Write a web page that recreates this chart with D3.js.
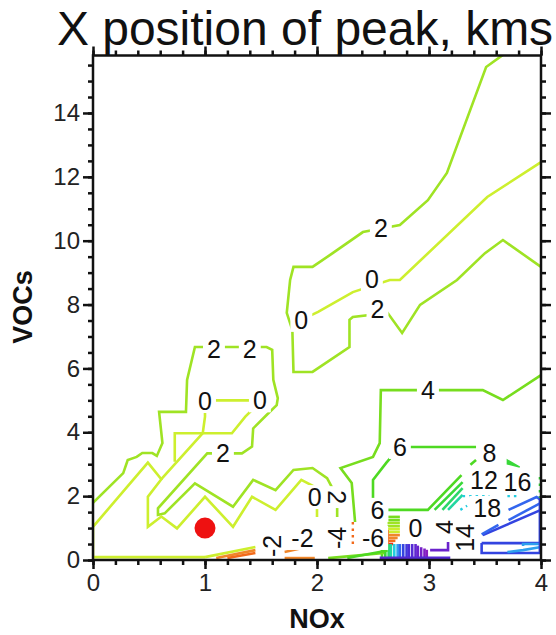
<!DOCTYPE html>
<html>
<head>
<meta charset="utf-8">
<script src="https://cdn.jsdelivr.net/npm/d3@7"></script>
<style>
  body { margin: 0; background: #fff; }
  text { font-family: "Liberation Sans", Arial, Helvetica, sans-serif; }
</style>
</head>
<body>
<svg id="chart" width="556" height="635"></svg>
<script>
// ---- chart text and axes ----
const chartTitle = "X position of peak, kms";
const xTitle = "NOx";
const yTitle = "VOCs";
const xDomain = [0, 4];
const yDomain = [0, 15.8];
const xTicks = [0, 1, 2, 3, 4];
const yTicks = [0, 2, 4, 6, 8, 10, 12, 14];

// base case marker (NOx, VOCs)
const basePoint = [1, 1];

// ---- contour lines of peak position, [NOx, VOCs] vertices ----
const contours = [
  // upper band
  { level: 2, pts: [[3.66,15.82],[3.51,15.44],[3.16,12.12],[2.99,11.27],[2.74,10.49],[2.41,10.27],[2.14,9.61],[1.96,9.18],[1.79,9.18],[1.76,8.77],[1.73,7.74],[1.78,7.20],[1.79,5.89],[1.96,5.89],[2.29,6.67],[2.29,7.52],[2.32,7.61],[2.63,7.74],[2.76,7.11],[2.92,7.99],[3.25,8.77],[3.50,9.61],[3.66,10.02],[4.0,9.18]] },
  { level: 0, pts: [[4.0,12.46],[3.52,11.37],[2.74,8.77],[2.65,8.77],[2.32,8.39],[2.01,7.77],[1.86,7.52]] },
  { level: 4, pts: [[4.0,5.79],[3.66,5.01],[3.48,5.32],[2.57,5.32],[2.56,3.66],[2.50,3.23],[2.21,2.88],[2.31,2.41],[2.34,1.19]] },
  // lower-left lobes
  { level: 2, pts: [[0,1.79],[0.27,2.72],[0.31,3.13],[0.39,3.23],[0.44,3.35],[0.53,3.35],[0.57,3.26],[0.62,3.66],[0.59,4.64],[0.83,4.64],[0.84,5.64],[0.91,6.67],[1.55,6.67],[1.60,6.58],[1.61,5.64],[1.65,5.07],[1.64,4.85],[1.55,4.54],[1.43,4.12],[1.42,3.55],[1.33,3.34],[1.02,3.34],[0.58,1.62],[0.58,1.41],[0.64,1.46],[0.91,2.40],[1.25,1.67],[1.43,2.51],[1.63,2.19],[1.79,2.82],[1.96,2.88],[2.09,2.56],[2.18,1.97],[2.18,1.35]] },
  { level: 0, pts: [[1.0,0.09],[0,0.09],[0,1.04],[0.49,3.05],[0.61,2.53],[0.49,1.98],[0.49,1.04],[0.61,1.36],[0.75,0.99],[1.0,1.98],[1.25,1.04],[1.42,1.98],[1.63,1.57],[1.86,2.51],[1.98,2.29],[2.0,1.97],[2.0,1.35]] },
  { level: 0, pts: [[0.61,2.53],[0.98,3.97],[1.0,4.49],[1.0,5.0],[1.49,5.0]] },
  { level: 0, pts: [[0.73,3.08],[0.73,3.97],[1.24,3.97],[1.36,4.49],[1.45,4.8]] },
  // positive lobe, lower right
  { level: 6, pts: [[3.42,3.54],[2.74,3.54],[2.62,3.05],[2.50,2.51],[2.50,1.57],[2.99,1.57],[3.29,2.66]] },
  { level: 6, pts: [[3.37,2.98],[3.42,3.13]] },
  { level: 8, pts: [[3.05,1.57],[3.30,2.44]] },
  { level: 10, pts: [[3.12,1.57],[3.30,2.25]] },
  { level: 12, pts: [[3.17,1.57],[3.30,2.04]] },
  { level: 18, pts: [[3.71,1.57],[3.96,1.97],[4.0,1.88]] },
  { level: 18, pts: [[3.71,1.25],[4.0,1.79]] },
  { level: 20, pts: [[3.48,0.78],[4.0,1.57]] },
  { level: 18, pts: [[3.47,0.80],[3.62,1.10]] },
  { level: 20, pts: [[3.47,0.53],[4.0,0.53]] },
  { level: 20, pts: [[4.0,0.22],[3.47,0.22],[3.47,0.53]] },
  { level: 16, pts: [[3.70,0.25],[3.84,0.31],[4.0,0.41]] },
  { level: 16, pts: [[3.84,0.44],[3.84,0.50],[4.0,0.50]] },
  { level: 20, pts: [[3.99,2.0],[3.99,0.22]] },
  // crowded levels near the NOx axis
  { level: 4, pts: [[2.63,1.35],[2.74,1.35]] },
  { level: 4, pts: [[2.63,1.25],[2.74,1.25]] },
  { level: 2, pts: [[2.63,1.16],[2.74,1.16]] },
  { level: 2, pts: [[2.63,1.06],[2.74,1.06]] },
  { level: 0, pts: [[2.63,0.97],[2.74,0.97]] },
  { level: 0, pts: [[2.63,0.88],[2.74,0.88]] },
  { level: -2, pts: [[2.63,0.78],[2.74,0.78]] },
  { level: -2, pts: [[2.63,0.69],[2.72,0.69]] },
  { level: -4, pts: [[2.63,0.60],[2.70,0.60]] },
  { level: -6, pts: [[2.63,0.50],[2.68,0.50]] },
  { level: -4, pts: [[2.63,0.94],[2.63,0.41]] },
  { level: 6, pts: [[2.58,0.08],[2.58,0.48]] },
  { level: 8, pts: [[2.61,0.08],[2.61,0.50]] },
  { level: 10, pts: [[2.64,0.08],[2.64,0.50]] },
  { level: 12, pts: [[2.66,0.08],[2.66,0.50]] },
  { level: 14, pts: [[2.69,0.08],[2.69,0.50]] },
  { level: 16, pts: [[2.72,0.08],[2.72,0.50]] },
  { level: 18, pts: [[2.74,0.08],[2.74,0.50]] },
  { level: 20, pts: [[2.77,0.08],[2.77,0.50]] },
  { level: 22, pts: [[2.80,0.08],[2.80,0.50]] },
  { level: 24, pts: [[2.82,0.08],[2.82,0.50]] },
  { level: 26, pts: [[2.85,0.08],[2.85,0.50]] },
  { level: 28, pts: [[2.88,0.08],[2.88,0.50]] },
  { level: 30, pts: [[2.90,0.08],[2.90,0.45]] },
  { level: 32, pts: [[2.93,0.08],[2.93,0.40]] },
  { level: 34, pts: [[2.96,0.08],[2.96,0.36]] },
  { level: 36, pts: [[2.98,0.08],[2.98,0.32]] },
  { level: 30, pts: [[3.01,0.31],[3.17,0.31],[3.17,0.56]] },
  { level: 26, pts: [[2.56,0.07],[3.19,0.07]] },
  { level: 4, pts: [[2.10,0.06],[2.60,0.22]] },
  { level: 6, pts: [[2.27,0.06],[2.63,0.30]] },
  { level: 0, pts: [[1.0,0.09],[1.45,0.41]] },
  { level: -2, pts: [[1.10,0.06],[1.45,0.31]] },
  { level: -4, pts: [[1.20,0.06],[1.45,0.22]] },
  { level: -2, pts: [[1.71,0.25],[1.91,0.41]] },
  { level: -2, pts: [[1.71,0.06],[1.98,0.06]] }
];

// broken, dotted contour fragments
const dottedContours = [
  { level: -4, pts: [[2.32,1.19],[2.32,0.38]] },
  { level: 14, pts: [[3.30,2.0],[3.54,2.0]] },
  { level: 14, pts: [[3.70,2.0],[3.81,2.0]] },
  { level: 14, pts: [[3.28,1.57],[3.34,1.70]] },
  { level: 8, pts: [[3.99,2.60],[3.99,1.94]] }
];

// small closed patch next to the 16 label
const filledPatches = [
  { level: 8, pts: [[3.70,3.13],[3.81,2.91],[3.70,3.01]] }
];

// contour labels: text, level position, rotation
const contourLabels = [
  { text: "2", x: 2.57, y: 10.40, rot: 0 },
  { text: "0", x: 2.49, y: 8.80, rot: 0 },
  { text: "0", x: 1.86, y: 7.52, rot: 0 },
  { text: "2", x: 2.54, y: 7.85, rot: 0 },
  { text: "2", x: 1.08, y: 6.61, rot: 0 },
  { text: "2", x: 1.40, y: 6.61, rot: 0 },
  { text: "0", x: 1.00, y: 4.98, rot: 0 },
  { text: "0", x: 1.49, y: 5.00, rot: 0 },
  { text: "2", x: 1.16, y: 3.34, rot: 0 },
  { text: "4", x: 2.99, y: 5.32, rot: 0 },
  { text: "6", x: 2.74, y: 3.54, rot: 0 },
  { text: "8", x: 3.54, y: 3.35, rot: 0 },
  { text: "12", x: 3.49, y: 2.51, rot: 0 },
  { text: "16", x: 3.79, y: 2.44, rot: 0 },
  { text: "18", x: 3.52, y: 1.63, rot: 0 },
  { text: "6", x: 2.54, y: 1.57, rot: 0 },
  { text: "0", x: 1.98, y: 1.97, rot: 0 },
  { text: "2", x: 2.18, y: 1.97, rot: 90 },
  { text: "-2", x: 1.60, y: 0.44, rot: -90 },
  { text: "-2", x: 1.87, y: 0.69, rot: 0 },
  { text: "-4", x: 2.18, y: 0.69, rot: -90 },
  { text: "-6", x: 2.50, y: 0.69, rot: 0 },
  { text: "0", x: 2.88, y: 1.00, rot: 0 },
  { text: "4", x: 3.14, y: 1.03, rot: -90 },
  { text: "14", x: 3.32, y: 0.69, rot: -90 }
];

// ---- drawing ----
const svg = d3.select("#chart");
const plotLeft = 93, plotRight = 541, plotTop = 55.5, plotBottom = 560;

const x = d3.scaleLinear().domain(xDomain).range([plotLeft, plotRight]);
const y = d3.scaleLinear().domain(yDomain).range([plotBottom, plotTop]);

// rainbow colouring of contour levels
const color = d3.scaleLinear()
  .domain([-6, -4, -2, 0, 2, 4, 6, 8, 10, 12, 14, 16, 18, 20, 24, 30, 36])
  .range(["#e8331c", "#f26a1b", "#f0862a", "#cdef2e", "#9fe324", "#77dd1e",
          "#4ed922", "#38d838", "#2cd868", "#22d6a0", "#22cce0", "#2fa0ee",
          "#3366ee", "#3344e0", "#4a2ed8", "#6a22cc", "#8a1ec0"])
  .interpolate(d3.interpolateRgb)
  .clamp(true);

svg.append("defs").append("clipPath").attr("id", "plot-area")
  .append("rect")
  .attr("x", plotLeft).attr("y", plotTop)
  .attr("width", plotRight - plotLeft).attr("height", plotBottom - plotTop);

const line = d3.line().x(d => x(d[0])).y(d => y(d[1]));
const plot = svg.append("g").attr("clip-path", "url(#plot-area)");

plot.selectAll("path.contour")
  .data(contours)
  .join("path")
  .attr("class", "contour")
  .attr("d", d => line(d.pts))
  .attr("fill", "none")
  .attr("stroke", d => color(d.level))
  .attr("stroke-width", 2.6)
  .attr("stroke-linejoin", "miter");

plot.selectAll("path.dotted")
  .data(dottedContours)
  .join("path")
  .attr("class", "dotted")
  .attr("d", d => line(d.pts))
  .attr("fill", "none")
  .attr("stroke", d => color(d.level))
  .attr("stroke-width", 2.4)
  .attr("stroke-dasharray", "2.5,4");

plot.selectAll("path.patch")
  .data(filledPatches)
  .join("path")
  .attr("class", "patch")
  .attr("d", d => line(d.pts) + "Z")
  .attr("fill", d => color(d.level))
  .attr("stroke", d => color(d.level))
  .attr("stroke-width", 1.5);

// contour labels with a white knock-out behind each
const labelG = svg.append("g");
contourLabels.forEach(d => {
  const g = labelG.append("g")
    .attr("transform", `translate(${x(d.x)},${y(d.y)}) rotate(${d.rot})`);
  const rect = g.append("rect").attr("fill", "#fff");
  const t = g.append("text")
    .attr("text-anchor", "middle")
    .attr("dy", "0.36em")
    .attr("font-size", 25)
    .attr("fill", "#111")
    .text(d.text);
  const b = t.node().getBBox();
  rect.attr("x", b.x - 4).attr("y", b.y + 2)
      .attr("width", b.width + 8).attr("height", b.height - 4);
});

// base case point
svg.append("circle")
  .attr("cx", x(basePoint[0]))
  .attr("cy", y(basePoint[1]))
  .attr("r", 10.5)
  .attr("fill", "#ee1111");

// ---- axes: major and minor ticks on all four sides ----
const xMinor = d3.range(0, 4.001, 0.2);
const yMinor = d3.range(0, 15.8, 0.5);

function styleAxis(g) {
  g.select(".domain").remove();
  g.selectAll(".tick line").attr("stroke", "#111").attr("stroke-width", 2.5);
  g.selectAll(".tick text")
    .attr("font-family", "Liberation Sans, Arial, sans-serif")
    .attr("font-size", 24)
    .attr("fill", "#222");
}

const fmt = d3.format("d");
svg.append("g").attr("transform", `translate(0,${plotBottom})`)
  .call(d3.axisBottom(x).tickValues(xMinor).tickSize(5).tickFormat("")).call(styleAxis);
svg.append("g").attr("transform", `translate(0,${plotBottom})`)
  .call(d3.axisBottom(x).tickValues(xTicks).tickSize(9).tickPadding(5).tickFormat(fmt)).call(styleAxis);
svg.append("g").attr("transform", `translate(0,${plotTop})`)
  .call(d3.axisTop(x).tickValues(xMinor).tickSize(5).tickFormat("")).call(styleAxis);
svg.append("g").attr("transform", `translate(0,${plotTop})`)
  .call(d3.axisTop(x).tickValues(xTicks).tickSize(9).tickFormat("")).call(styleAxis);
svg.append("g").attr("transform", `translate(${plotLeft},0)`)
  .call(d3.axisLeft(y).tickValues(yMinor).tickSize(5).tickFormat("")).call(styleAxis);
svg.append("g").attr("transform", `translate(${plotLeft},0)`)
  .call(d3.axisLeft(y).tickValues(yTicks).tickSize(10).tickPadding(3).tickFormat(fmt)).call(styleAxis);
svg.append("g").attr("transform", `translate(${plotRight},0)`)
  .call(d3.axisRight(y).tickValues(yMinor).tickSize(5).tickFormat("")).call(styleAxis);
svg.append("g").attr("transform", `translate(${plotRight},0)`)
  .call(d3.axisRight(y).tickValues(yTicks).tickSize(10).tickFormat("")).call(styleAxis);

// frame
svg.append("rect")
  .attr("x", plotLeft).attr("y", plotTop)
  .attr("width", plotRight - plotLeft).attr("height", plotBottom - plotTop)
  .attr("fill", "none").attr("stroke", "#111").attr("stroke-width", 2.5);

// titles
svg.append("text")
  .attr("x", 305).attr("y", 45)
  .attr("text-anchor", "middle")
  .attr("font-size", 48)
  .attr("fill", "#111")
  .text(chartTitle);

svg.append("text")
  .attr("x", (plotLeft + plotRight) / 2).attr("y", 628)
  .attr("text-anchor", "middle")
  .attr("font-size", 27).attr("font-weight", "bold")
  .attr("fill", "#111")
  .text(xTitle);

svg.append("text")
  .attr("transform", `translate(32,307) rotate(-90)`)
  .attr("text-anchor", "middle")
  .attr("font-size", 27).attr("font-weight", "bold")
  .attr("fill", "#111")
  .text(yTitle);
</script>
</body>
</html>
